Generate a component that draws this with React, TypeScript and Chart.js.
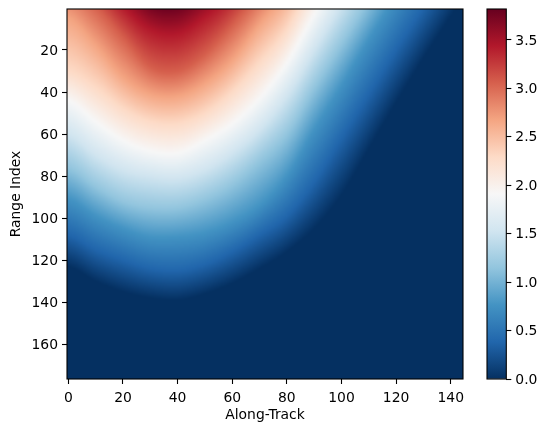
import React, { useEffect, useRef } from "react";
import { Chart, registerables } from "chart.js";

Chart.register(...registerables);

const alongTrack = [0, 10, 20, 30, 40, 50, 60, 70, 80, 90, 100, 110, 120, 130, 140, 150];
// Value levels, and for each the range index where the image shows that value at each along-track position.
const levels = [0, 0.38, 0.76, 1.15, 1.53, 1.91, 2.29, 2.67, 3.06, 3.44, 3.82];
const iso000 = [123, 130, 135, 138, 139, 136, 131, 124, 116, 105, 89, 67, 45, 24, 4, -16];
const iso038 = [108, 115, 120, 124, 125, 122, 116, 108, 99, 83, 62, 41, 20, 0, -20, -42];
const iso076 = [91, 99, 105, 109, 109, 107, 102, 94, 80, 58, 37, 15, -6, -28, -50, -72];
const iso115 = [76, 85, 92, 95, 95, 91, 84, 73, 60, 38, 17, -4, -26, -48, -70, -92];
const iso153 = [60, 70, 77, 80, 81, 77, 69, 58, 42, 20, -2, -24, -46, -68, -90, -112];
const iso191 = [44, 54, 63, 68, 69, 63, 55, 43, 26, 3, -20, -42, -64, -86, -108, -130];
const iso229 = [30, 38, 48, 54, 55, 50, 40, 26, 10, -15, -38, -60, -82, -104, -126, -148];
const iso267 = [5, 18, 33, 41, 42, 36, 25, 8, -8, -32, -55, -78, -100, -122, -144, -166];
const iso306 = [-12, -1, 14, 28, 30, 22, 8, -8, -24, -48, -72, -95, -118, -140, -162, -184];
const iso344 = [-26, -15, -1, 10, 12, 4, -7, -22, -40, -64, -88, -112, -135, -158, -180, -202];
const iso382 = [-40, -29, -16, -3, -1.5, -10, -21, -36, -54, -80, -104, -128, -152, -175, -198, -220];
const isoLines = [iso000, iso038, iso076, iso115, iso153, iso191, iso229, iso267, iso306, iso344, iso382];

const xTicks = [0, 20, 40, 60, 80, 100, 120, 140];
const yTicks = [20, 40, 60, 80, 100, 120, 140, 160];
const barTicks = [0, 0.5, 1, 1.5, 2, 2.5, 3, 3.5];
const vMax = 3.82;
const rdBuR = ["#053061", "#2166ac", "#4393c3", "#92c5de", "#d1e5f0", "#f7f7f7", "#fddbc7", "#f4a582", "#d6604d", "#b2182b", "#67001f"];

const FONT = { family: "'DejaVu Sans'", size: 13.9 };
const anchors = rdBuR.map((h) => [1, 3, 5].map((i) => parseInt(h.slice(i, i + 2), 16)));

function colorOf(v: number): number[] {
  const t = Math.min(0.99999, Math.max(0, v / vMax)) * (anchors.length - 1);
  const k = Math.floor(t);
  const f = t - k;
  return [0, 1, 2].map((c) => anchors[k][c] * (1 - f) + anchors[k + 1][c] * f);
}

function curveAt(rs: number[], x: number): number {
  const u = x / 10;
  const i = Math.min(rs.length - 2, Math.floor(u));
  const t = u - i;
  const p0 = rs[Math.max(0, i - 1)];
  const p1 = rs[i];
  const p2 = rs[i + 1];
  const p3 = rs[Math.min(rs.length - 1, i + 2)];
  return 0.5 * (2 * p1 + (p2 - p0) * t + (2 * p0 - 5 * p1 + 4 * p2 - p3) * t * t + (3 * p1 - p0 - 3 * p2 + p3) * t * t * t);
}

const heatmapPlugin = {
  id: "heatmap",
  beforeDatasetsDraw(chart: any) {
    const { ctx, scales, chartArea } = chart;
    const lines: number[][] = chart.data.datasets.map((d: any) => d.data.map((p: any) => p.y));
    const lv: number[] = chart.data.datasets.map((d: any) => d.data[0].v);
    const W = 145;
    const H = 176;
    const off = document.createElement("canvas");
    off.width = W;
    off.height = H;
    const octx = off.getContext("2d")!;
    const img = octx.createImageData(W, H);
    for (let i = 0; i < W; i++) {
      const rk = lines.map((l) => curveAt(l, i));
      for (let j = 0; j < H; j++) {
        const r = j + 1;
        let v = lv[lv.length - 1];
        if (r >= rk[0]) v = lv[0];
        else {
          for (let k = 0; k < rk.length - 1; k++) {
            if (r >= rk[k + 1]) {
              v = lv[k] + ((rk[k] - r) / (rk[k] - rk[k + 1])) * (lv[k + 1] - lv[k]);
              break;
            }
          }
        }
        const col = colorOf(v);
        const p = (j * W + i) * 4;
        img.data[p] = col[0];
        img.data[p + 1] = col[1];
        img.data[p + 2] = col[2];
        img.data[p + 3] = 255;
      }
    }
    octx.putImageData(img, 0, 0);
    const x0 = scales.x.getPixelForValue(-0.5);
    const x1 = scales.x.getPixelForValue(144.5);
    const y0 = scales.y.getPixelForValue(0.5);
    const y1 = scales.y.getPixelForValue(176.5);
    ctx.save();
    ctx.beginPath();
    ctx.rect(chartArea.left, chartArea.top, chartArea.width, chartArea.height);
    ctx.clip();
    ctx.imageSmoothingEnabled = true;
    ctx.drawImage(off, x0, y0, x1 - x0, y1 - y0);
    ctx.restore();
  },
};

const framePlugin = {
  id: "frame",
  afterDraw(chart: any) {
    const { ctx, chartArea: a } = chart;
    ctx.save();
    ctx.strokeStyle = "#000";
    ctx.lineWidth = 1.1;
    ctx.strokeRect(a.left, a.top, a.right - a.left, a.bottom - a.top);
    ctx.restore();
  },
};

const tickGrid = { drawOnChartArea: false, drawTicks: true, tickLength: 5, tickColor: "#000", tickWidth: 1.1 };

export default function App() {
  const mainRef = useRef<HTMLCanvasElement>(null);
  const barRef = useRef<HTMLCanvasElement>(null);

  useEffect(() => {
    const datasets = levels.map((v, k) => ({
      data: alongTrack.map((x, c) => ({ x, y: isoLines[k][c], v })),
      pointRadius: 0,
      pointHoverRadius: 0,
    }));

    const main = new Chart(mainRef.current!, {
      type: "scatter",
      data: { datasets },
      plugins: [heatmapPlugin, framePlugin],
      options: {
        animation: false,
        responsive: false,
        devicePixelRatio: 1,
        layout: { padding: { left: 0, right: 84, top: 9, bottom: 0 } },
        plugins: { legend: { display: false }, tooltip: { enabled: false } },
        scales: {
          x: {
            type: "linear",
            min: -0.5,
            max: 144.5,
            afterBuildTicks: (s: any) => { s.ticks = xTicks.map((value) => ({ value })); },
            afterFit: (s: any) => { s.height = 53; s.paddingLeft = 0; s.paddingRight = 0; },
            grid: tickGrid,
            border: { display: false },
            ticks: { color: "#000", font: FONT, padding: 6, autoSkip: false, maxRotation: 0, callback: (v: any) => String(v) },
            title: { display: true, text: "Along-Track", color: "#000", font: FONT, padding: { top: 4, bottom: 8 } },
          },
          y: {
            type: "linear",
            reverse: true,
            min: 0.5,
            max: 176.5,
            afterBuildTicks: (s: any) => { s.ticks = yTicks.map((value) => ({ value })); },
            afterFit: (s: any) => { s.width = 67; s.paddingTop = 0; s.paddingBottom = 0; },
            grid: tickGrid,
            border: { display: false },
            ticks: { color: "#000", font: FONT, padding: 4, labelOffset: 1, autoSkip: false, callback: (v: any) => String(v) },
            title: { display: true, text: "Range Index", color: "#000", font: FONT, padding: { top: 8, bottom: 0 } },
          },
        },
      } as any,
    });

    const bar = new Chart(barRef.current!, {
      type: "bar",
      data: {
        labels: ["value"],
        datasets: [
          {
            data: [[0, vMax]] as any,
            barPercentage: 1,
            categoryPercentage: 1,
            backgroundColor: (c: any) => {
              const a = c.chart.chartArea;
              if (!a) return rdBuR[5];
              const g = c.chart.ctx.createLinearGradient(0, a.bottom, 0, a.top);
              rdBuR.forEach((h, i) => g.addColorStop(i / (rdBuR.length - 1), h));
              return g;
            },
          },
        ],
      },
      plugins: [framePlugin],
      options: {
        animation: false,
        responsive: false,
        devicePixelRatio: 1,
        layout: { padding: { left: 17, right: 0, top: 9, bottom: 53 } },
        plugins: { legend: { display: false }, tooltip: { enabled: false } },
        scales: {
          x: { display: false },
          y: {
            position: "right",
            min: 0,
            max: vMax,
            afterBuildTicks: (s: any) => { s.ticks = barTicks.map((value) => ({ value })); },
            afterFit: (s: any) => { s.width = 40.7; s.paddingTop = 0; s.paddingBottom = 0; },
            grid: tickGrid,
            border: { display: false },
            ticks: { color: "#000", font: FONT, padding: 4, labelOffset: 1, autoSkip: false, callback: (v: any) => Number(v).toFixed(1) },
          },
        },
      } as any,
    });

    return () => {
      main.destroy();
      bar.destroy();
    };
  }, []);

  return (
    <div style={{ position: "absolute", left: 0, top: 0, width: 547, height: 432, background: "#fff" }}>
      <canvas ref={mainRef} width={547} height={432} style={{ position: "absolute", left: 0, top: 0, width: 547, height: 432 }} />
      <canvas ref={barRef} width={77} height={432} style={{ position: "absolute", left: 470, top: 0, width: 77, height: 432 }} />
    </div>
  );
}
